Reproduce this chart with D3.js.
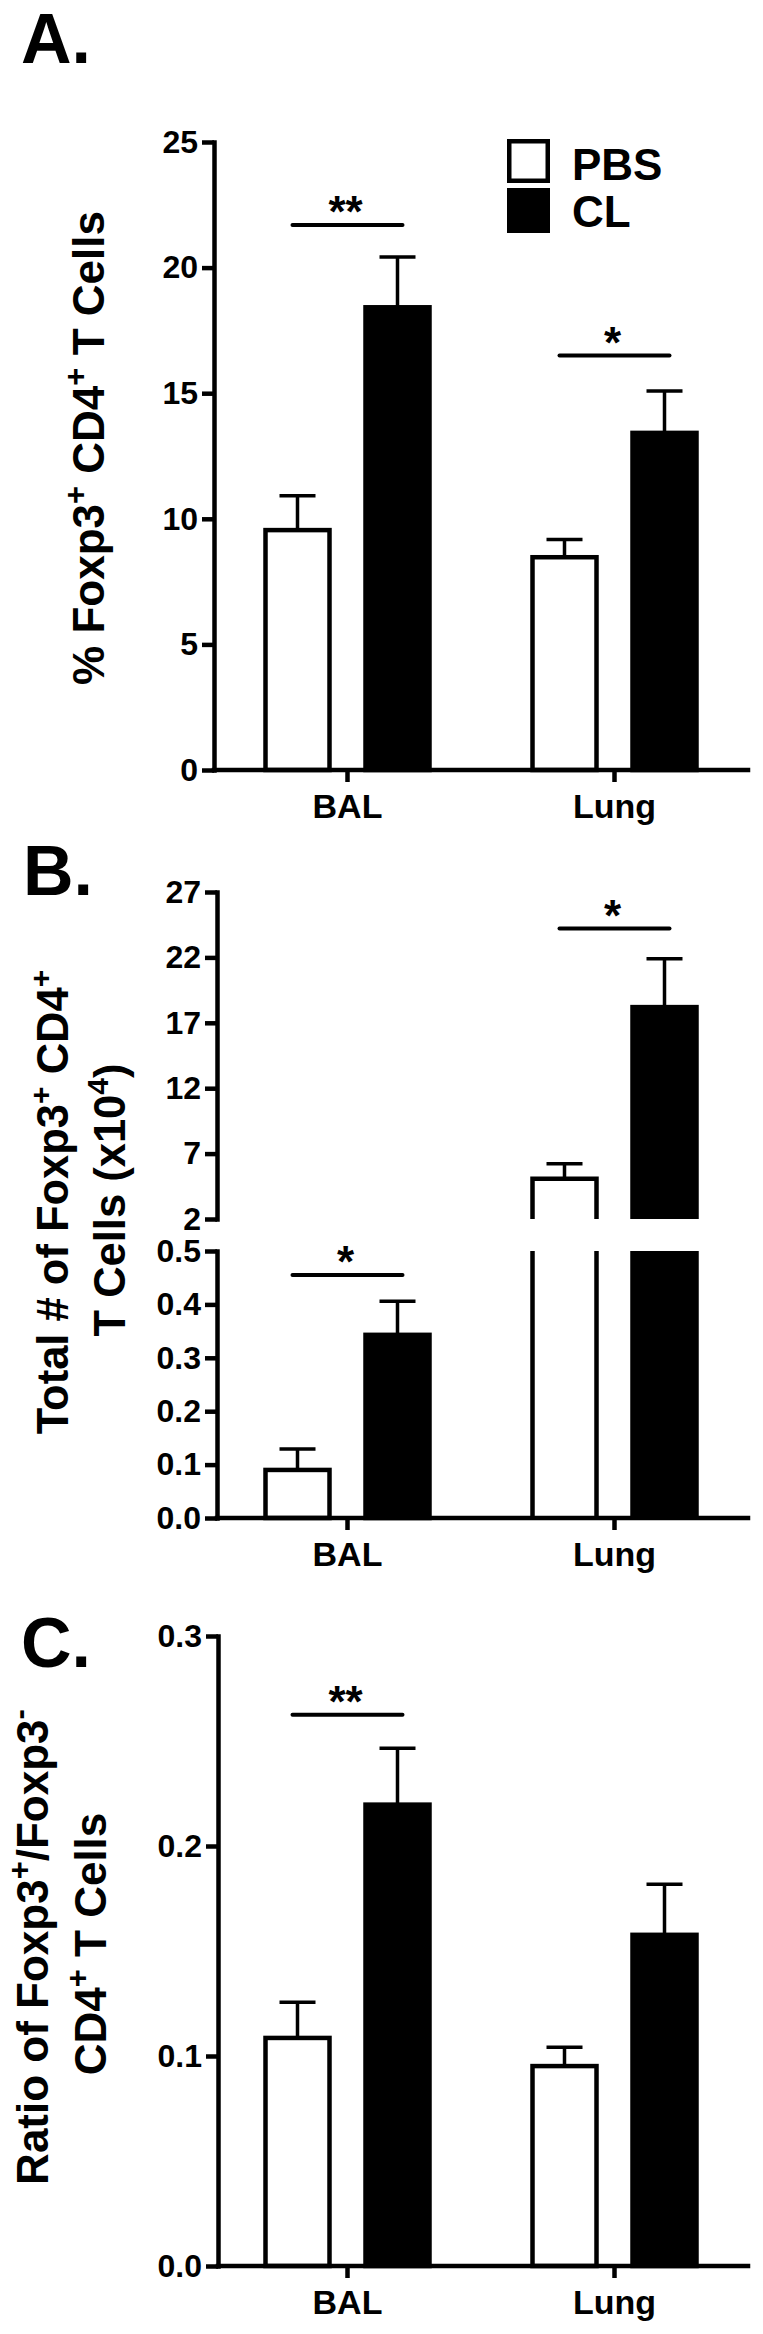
<!DOCTYPE html>
<html>
<head>
<meta charset="utf-8">
<script src="https://cdn.jsdelivr.net/npm/d3@7"></script>
<style>
body { margin: 0; background: #fff; }
svg text { font-family: "Liberation Sans", Arial, Helvetica, sans-serif; font-weight: bold; fill: #000; white-space: pre; }
</style>
</head>
<body>
<svg></svg>
<script>
/* Foxp3+ Treg bar panels (A, B, C) */

var groups = ['BAL', 'Lung'];
var series = ['PBS', 'CL'];

// A. % Foxp3+ CD4+ T cells
var pctPBS = [9.55, 8.47], pctPBSErr = [1.37, 0.71];
var pctCL = [18.42, 13.42], pctCLErr = [2.0, 1.67];
var pctTicks = [0, 5, 10, 15, 20, 25];
var pctSigGroups = ['BAL', 'Lung'], pctSigY = [21.7, 16.5], pctSigLabels = ['**', '*'];

// B. total number (x10^4), broken axis
var totPBS = [0.09, 5.07], totPBSErr = [0.039, 1.15];
var totCL = [0.343, 18.2], totCLErr = [0.063, 3.7];
var totTicksLow = [0, 0.1, 0.2, 0.3, 0.4, 0.5];
var totTicksHigh = [2, 7, 12, 17, 22, 27];
var totSigGroups = ['BAL', 'Lung'], totSigY = [0.455, 24.2], totSigLabels = ['*', '*'];

// C. ratio Foxp3+/Foxp3-
var ratioPBS = [0.1086, 0.0952], ratioPBSErr = [0.017, 0.009];
var ratioCL = [0.2197, 0.1577], ratioCLErr = [0.0268, 0.0241];
var ratioTicks = [0, 0.1, 0.2, 0.3];
var ratioSigGroups = ['BAL'], ratioSigY = [0.2625], ratioSigLabels = ['**'];

var W = 763, H = 2334;
var lw = 4.5, elw = 3.5, barW = 64, capW = 36;

var svg = d3.select('svg').attr('width', W).attr('height', H);
svg.append('rect').attr('width', W).attr('height', H).attr('fill', '#fff');

var x = d3.scaleBand().domain(groups).range([214, 748]);
var xs = d3.scaleBand().domain(series).range([-100, 100]);
var fill = d3.scaleOrdinal().domain(series).range(['#fff', '#000']);

function gx(gr) { return x(gr) + x.bandwidth() / 2; }
function cx(gr, s) { return gx(gr) + xs(s) + xs.bandwidth() / 2; }

function styleAxis(ax, fs) {
	ax.attr('font-family', null);
	ax.select('.domain').attr('stroke', '#000').attr('stroke-width', lw).attr('stroke-linecap', 'square');
	ax.selectAll('.tick line').attr('stroke', '#000').attr('stroke-width', lw);
	ax.selectAll('.tick text').attr('font-size', fs).attr('fill', '#000');
}

function yAxis(g, scale, ticks, fmt, axisX) {
	var ax = g.append('g')
		.attr('transform', 'translate(' + axisX + ',0)')
		.call(d3.axisLeft(scale).tickValues(ticks).tickFormat(fmt)
			.tickSize(12).tickSizeOuter(0).tickPadding(4));
	styleAxis(ax, 32);
}

function xAxis(g, yPos, axisX) {
	var ax = g.append('g')
		.attr('transform', 'translate(0,' + yPos + ')')
		.call(d3.axisBottom(x).tickSize(12).tickSizeOuter(0));
	ax.select('.domain').attr('d', 'M' + axisX + ',0H748');
	styleAxis(ax, 34);
	ax.selectAll('.tick text').attr('dy', null).attr('y', 48);
}

function rowsOf(pbs, pbsErr, cl, clErr) {
	var rows = [];
	groups.forEach(function (gr, i) {
		rows.push({ g: gr, s: 'PBS', v: pbs[i], e: pbsErr[i] });
		rows.push({ g: gr, s: 'CL', v: cl[i], e: clErr[i] });
	});
	return rows;
}

function errBar(g, d, y) {
	var c = cx(d.g, d.s);
	g.append('path')
		.attr('d', 'M' + c + ',' + y(d.v) + 'V' + y(d.v + d.e) +
			'M' + (c - capW / 2) + ',' + y(d.v + d.e) + 'H' + (c + capW / 2))
		.attr('fill', 'none').attr('stroke', '#000').attr('stroke-width', elw);
}

function bars(g, rows, y) {
	var y0 = y.range()[0];
	rows.forEach(function (d) { errBar(g, d, y); });
	g.selectAll('rect.bar').data(rows).enter().append('rect')
		.attr('class', 'bar')
		.attr('x', function (d) { return cx(d.g, d.s) - barW / 2; })
		.attr('y', function (d) { return y(d.v); })
		.attr('width', barW)
		.attr('height', function (d) { return y0 - y(d.v); })
		.attr('fill', function (d) { return fill(d.s); })
		.attr('stroke', '#000').attr('stroke-width', lw);
}

function sig(g, gr, yPix, label) {
	g.append('line')
		.attr('x1', cx(gr, 'PBS') - 5).attr('x2', cx(gr, 'CL') + 5)
		.attr('y1', yPix).attr('y2', yPix)
		.attr('stroke', '#000').attr('stroke-width', 4).attr('stroke-linecap', 'round');
	g.append('text')
		.attr('x', gx(gr) - 2).attr('y', yPix + 2)
		.attr('text-anchor', 'middle').attr('font-size', 44)
		.text(label);
}

function yLabel(g, xPos, yPos, parts, fs) {
	var t = g.append('text')
		.attr('transform', 'translate(' + xPos + ',' + yPos + ') rotate(-90)')
		.attr('text-anchor', 'middle').attr('font-size', fs);
	var shift = 0;
	parts.forEach(function (p) {
		var target = p[1] ? -Math.round(fs * 0.4) : 0;
		var ts = t.append('tspan').attr('dy', target - shift).text(p[0]);
		if (p[1]) ts.attr('font-size', Math.round(fs * 0.7));
		shift = target;
	});
}

function panelLetter(text, xPos, yPos) {
	svg.append('text').attr('x', xPos).attr('y', yPos).attr('font-size', 70).text(text);
}

/* ---------- Panel A ---------- */
var gA = svg.append('g');
var yA = d3.scaleLinear().domain([0, 25]).range([770, 142]);
panelLetter('A.', 21, 63);
bars(gA, rowsOf(pctPBS, pctPBSErr, pctCL, pctCLErr), yA);
yAxis(gA, yA, pctTicks, d3.format('d'), 214);
xAxis(gA, 770, 214);
pctSigGroups.forEach(function (gr, i) { sig(gA, gr, yA(pctSigY[i]), pctSigLabels[i]); });
yLabel(gA, 104, 448, [['% Foxp3', 0], ['+', 1], [' CD4', 0], ['+', 1], [' T Cells', 0]], 44);

// legend
var leg = gA.selectAll('g.leg').data(series).enter().append('g').attr('class', 'leg')
	.attr('transform', function (d, i) { return 'translate(507,' + (139 + i * 49) + ')'; });
leg.append('rect')
	.attr('x', function (d) { return d === 'PBS' ? lw / 2 : 0; })
	.attr('y', function (d) { return d === 'PBS' ? lw / 2 : 0; })
	.attr('width', function (d) { return d === 'PBS' ? 43 - lw : 43; })
	.attr('height', function (d) { return d === 'PBS' ? 44 - lw : 45; })
	.attr('fill', function (d) { return fill(d); })
	.attr('stroke', function (d) { return d === 'PBS' ? '#000' : 'none'; })
	.attr('stroke-width', lw);
leg.append('text').attr('x', 65).attr('y', function (d, i) { return 41 + i * -2; })
	.attr('font-size', 44).text(function (d) { return d; });

/* ---------- Panel B (broken axis) ---------- */
var gB = svg.append('g');
var yLow = d3.scaleLinear().domain([0, 0.5]).range([1518, 1251]);
var yHigh = d3.scaleLinear().domain([2, 27]).range([1219, 892]);
panelLetter('B.', 23, 895);

var rowsB = rowsOf(totPBS, totPBSErr, totCL, totCLErr);
rowsB.forEach(function (d) {
	var c = cx(d.g, d.s), left = c - barW / 2, right = c + barW / 2;
	if (d.v <= 0.5) {
		errBar(gB, d, yLow);
		gB.append('rect').attr('x', left).attr('y', yLow(d.v)).attr('width', barW)
			.attr('height', yLow(0) - yLow(d.v))
			.attr('fill', fill(d.s)).attr('stroke', '#000').attr('stroke-width', lw);
		return;
	}
	errBar(gB, d, yHigh);
	if (d.s === 'CL') {
		gB.append('rect').attr('x', left - lw / 2).attr('y', yLow(0.5)).attr('width', barW + lw)
			.attr('height', yLow(0) - yLow(0.5)).attr('fill', '#000');
		gB.append('rect').attr('x', left - lw / 2).attr('y', yHigh(d.v) - lw / 2).attr('width', barW + lw)
			.attr('height', yHigh(2) - yHigh(d.v) + lw / 2).attr('fill', '#000');
	} else {
		gB.append('path')
			.attr('d', 'M' + left + ',' + yLow(0) + 'V' + yLow(0.5) + 'M' + right + ',' + yLow(0.5) + 'V' + yLow(0))
			.attr('fill', 'none').attr('stroke', '#000').attr('stroke-width', lw);
		gB.append('path')
			.attr('d', 'M' + left + ',' + yHigh(2) + 'V' + yHigh(d.v) + 'H' + right + 'V' + yHigh(2))
			.attr('fill', '#fff').attr('stroke', '#000').attr('stroke-width', lw);
	}
});
yAxis(gB, yHigh, totTicksHigh, d3.format('d'), 217);
yAxis(gB, yLow, totTicksLow, d3.format('.1f'), 217);
xAxis(gB, 1518, 217);
totSigGroups.forEach(function (gr, i) {
	var yy = totSigY[i] <= 0.5 ? yLow(totSigY[i]) : yHigh(totSigY[i]);
	sig(gB, gr, yy, totSigLabels[i]);
});
yLabel(gB, 68, 1202, [['Total # of Foxp3', 0], ['+', 1], [' CD4', 0], ['+', 1]], 43.5);
yLabel(gB, 125, 1200, [['T Cells (x10', 0], ['4', 1], [')', 0]], 43.5);

/* ---------- Panel C ---------- */
var gC = svg.append('g');
var yC = d3.scaleLinear().domain([0, 0.3]).range([2266, 1636]);
panelLetter('C.', 21, 1667);
bars(gC, rowsOf(ratioPBS, ratioPBSErr, ratioCL, ratioCLErr), yC);
yAxis(gC, yC, ratioTicks, d3.format('.1f'), 218);
xAxis(gC, 2266, 218);
ratioSigGroups.forEach(function (gr, i) { sig(gC, gr, yC(ratioSigY[i]), ratioSigLabels[i]); });
yLabel(gC, 48, 1947, [['Ratio of Foxp3', 0], ['+', 1], ['/Foxp3', 0], ['-', 1]], 44);
yLabel(gC, 106, 1944, [['CD4', 0], ['+', 1], [' T Cells', 0]], 44);
</script>
</body>
</html>
